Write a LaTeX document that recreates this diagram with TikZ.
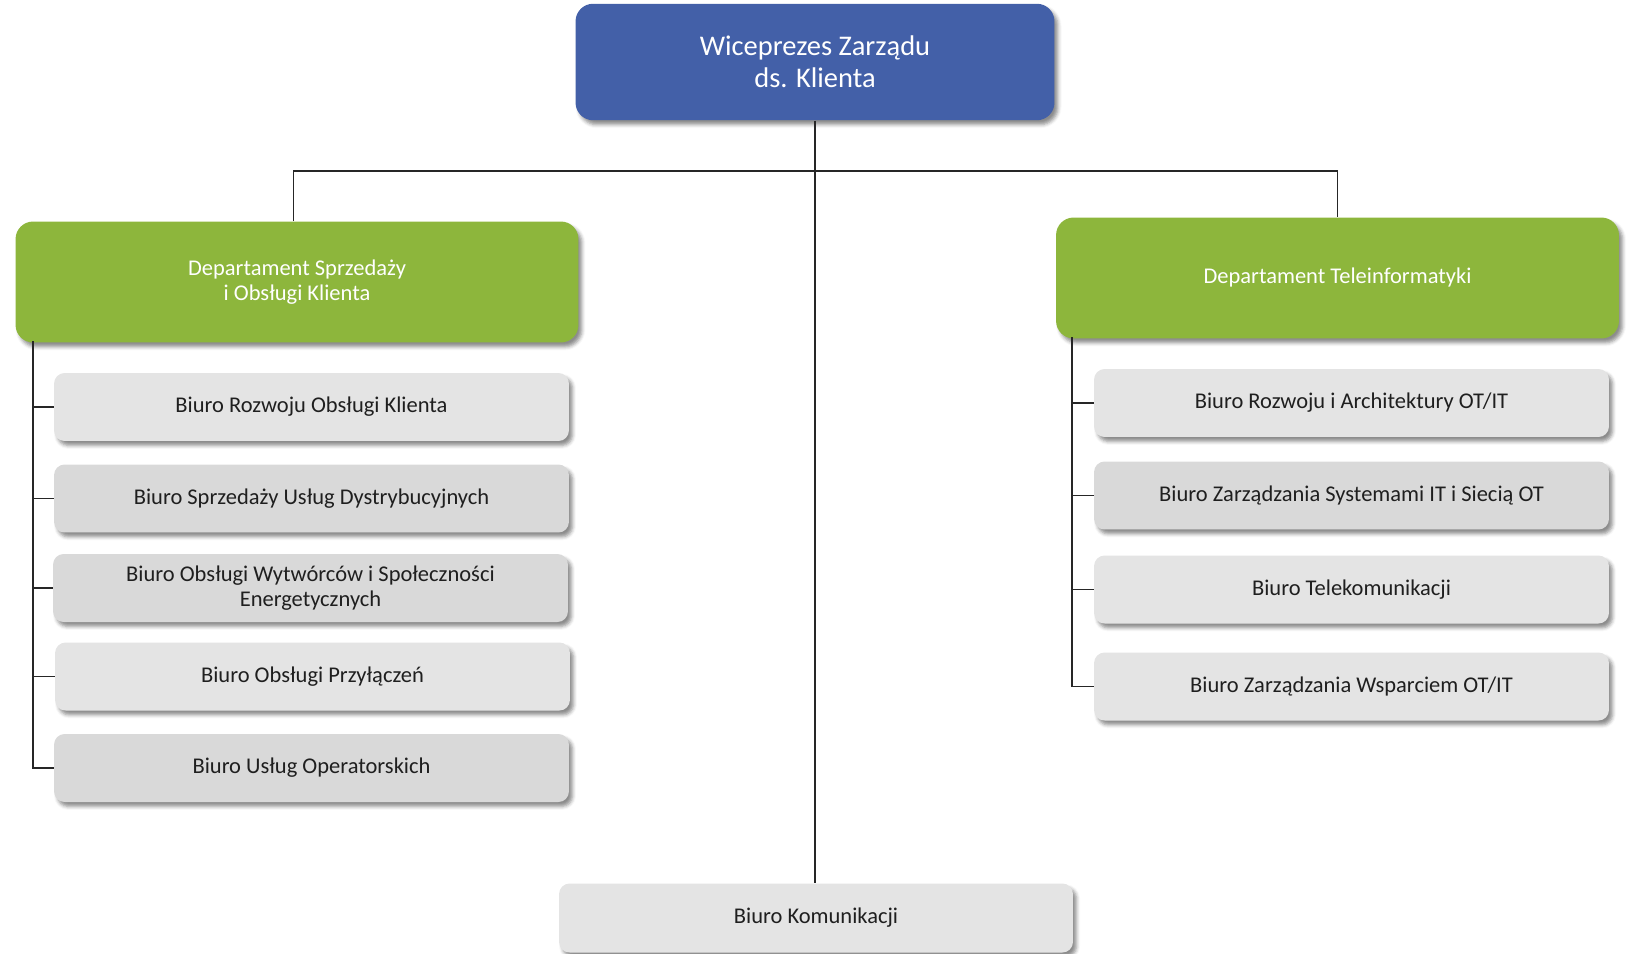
\documentclass[tikz,border=0pt]{standalone}
\usepackage{fontspec}
\setmainfont{Carlito}
\usepackage{tikz}
\usetikzlibrary{shadows.blur}
\usepackage{xcolor}
\definecolor{zblue}{RGB}{67,96,168}
\definecolor{zgreen}{RGB}{141,182,60}
\definecolor{zgrey}{RGB}{228,228,228}
\definecolor{zgreyd}{RGB}{217,217,217}
\colorlet{ztext}{black!88}
\tikzstyle{boss}=[rounded corners=10pt,fill=zblue,text=white,align=center,minimum width=9.58cm,minimum height=2.33cm,font=\fontsize{16.2}{18}\selectfont,blur shadow={shadow xshift=2pt,shadow yshift=-2.5pt,shadow blur radius=2pt,shadow opacity=45}]
\tikzstyle{dept}=[rounded corners=10pt,fill=zgreen,text=white,align=center,minimum width=11.26cm,minimum height=2.42cm,font=\fontsize{12.8}{14.6}\selectfont,blur shadow={shadow xshift=2pt,shadow yshift=-2.5pt,shadow blur radius=2pt,shadow opacity=45}]
\tikzstyle{unit}=[rounded corners=6pt,fill=zgrey,text=ztext,align=center,minimum width=10.3cm,minimum height=1.36cm,font=\fontsize{12.8}{14.6}\selectfont,blur shadow={shadow xshift=2pt,shadow yshift=-2.5pt,shadow blur radius=2pt,shadow opacity=45}]
\tikzstyle{link}=[draw=black!85,line width=0.8pt]

\begin{document}
\begin{tikzpicture}[x=0.02cm,y=-0.02cm]
 \useasboundingbox (0,0) rectangle (1632,953);
 % top
 \node[boss] (vp) at (815,62) {Wiceprezes Zarządu\\ds. Klienta};
 %
 \node[dept] (dso) at (297,282) {Departament Sprzedaży\\i Obsługi Klienta};
 \node[dept] (dt) at (1337.5,278) {Departament Teleinformatyki};
 %
 \node[unit] (s1) at (311.5,407) {Biuro Rozwoju Obsługi Klienta};
 \node[unit,fill=zgreyd] (s2) at (311.5,498.5) {Biuro Sprzedaży Usług Dystrybucyjnych};
 \node[unit,fill=zgreyd] (s3) at (310.5,588) {Biuro Obsługi Wytwórców i Społeczności\\Energetycznych};
 \node[unit] (s4) at (312.5,676.5) {Biuro Obsługi Przyłączeń};
 \node[unit,fill=zgreyd] (s5) at (311.5,768) {Biuro Usług Operatorskich};
 %
 \node[unit] (t1) at (1351.5,403) {Biuro Rozwoju i Architektury OT/IT};
 \node[unit,fill=zgreyd] (t2) at (1351.5,495.5) {Biuro Zarządzania Systemami IT i Siecią OT};
 \node[unit] (t3) at (1351.5,589.5) {Biuro Telekomunikacji};
 \node[unit] (t4) at (1351.5,686.5) {Biuro Zarządzania Wsparciem OT/IT};
 %
 \node[unit,minimum width=10.28cm,minimum height=1.38cm] (kom) at (816,918) {Biuro Komunikacji};
 % connectors
 \coordinate (bus) at (815,171);
 \coordinate (ltr) at (33,341);
 \coordinate (rtr) at (1072,337);
 \draw[link] (vp.south) -- (vp.south |- kom.north);
 \draw[link] ([xshift=-2pt]dso.north) |- (bus) -| (dt.north);
 \foreach \s in {s1,s2,s3,s4,s5}
  \draw[link] (ltr) |- (\s.west);
 \foreach \t in {t1,t2,t3,t4}
  \draw[link] (rtr) |- (\t.west);
\end{tikzpicture}
\end{document}
